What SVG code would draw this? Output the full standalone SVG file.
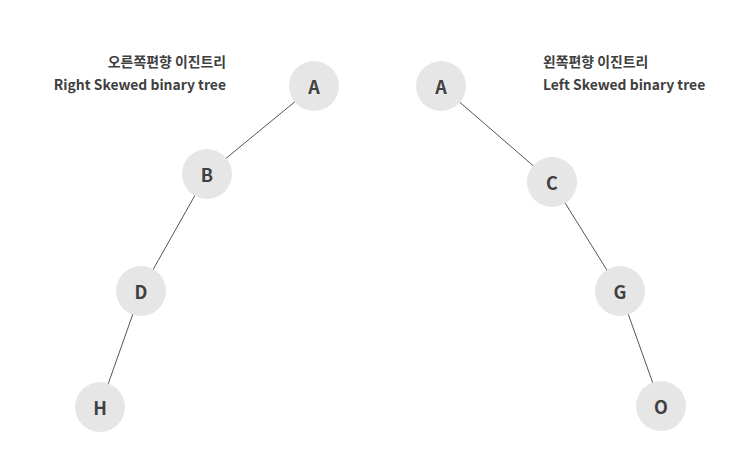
<svg xmlns="http://www.w3.org/2000/svg" width="753" height="471" viewBox="0 0 753 471">
<style>
.node circle{fill:#e6e6e6;}
.node text{font-family:"Noto Sans CJK KR","Noto Sans",sans-serif;font-weight:bold;font-size:18px;fill:#404040;text-anchor:middle;dominant-baseline:central;}
.edges line{stroke:#555;stroke-width:1;}
.lbl{font-family:"Noto Sans CJK KR","Noto Sans",sans-serif;font-weight:bold;font-size:13.9px;fill:#404040;}
</style>
<rect width="753" height="471" fill="#fff"/>
<g class="edges">
<line x1="314" y1="86" x2="207" y2="174"/>
<line x1="207" y1="174" x2="141" y2="291"/>
<line x1="141" y1="291" x2="100" y2="407"/>
<line x1="441" y1="86" x2="552" y2="182"/>
<line x1="552" y1="182" x2="620" y2="291"/>
<line x1="620" y1="291" x2="661" y2="406"/>
</g>
<g id="rA" class="node"><circle cx="314" cy="86" r="25"/><text x="314" y="86">A</text></g>
<g id="rB" class="node"><circle cx="207" cy="174" r="25"/><text x="207" y="174">B</text></g>
<g id="rD" class="node"><circle cx="141" cy="291" r="25"/><text x="141" y="291">D</text></g>
<g id="rH" class="node"><circle cx="100" cy="407" r="25"/><text x="100" y="407">H</text></g>
<g id="lA" class="node"><circle cx="441" cy="86" r="25"/><text x="441" y="86">A</text></g>
<g id="lC" class="node"><circle cx="552" cy="182" r="25"/><text x="552" y="182">C</text></g>
<g id="lG" class="node"><circle cx="620" cy="291" r="25"/><text x="620" y="291">G</text></g>
<g id="lO" class="node"><circle cx="661" cy="406" r="25"/><text x="661" y="406">O</text></g>
<g id="labels">
<text class="lbl" x="226" y="67" text-anchor="end">오른쪽편향 이진트리</text>
<text class="lbl" x="226" y="90" text-anchor="end">Right Skewed binary tree</text>
<text class="lbl" x="543" y="67">왼쪽편향 이진트리</text>
<text class="lbl" x="543" y="90">Left Skewed binary tree</text>
</g>
</svg>
